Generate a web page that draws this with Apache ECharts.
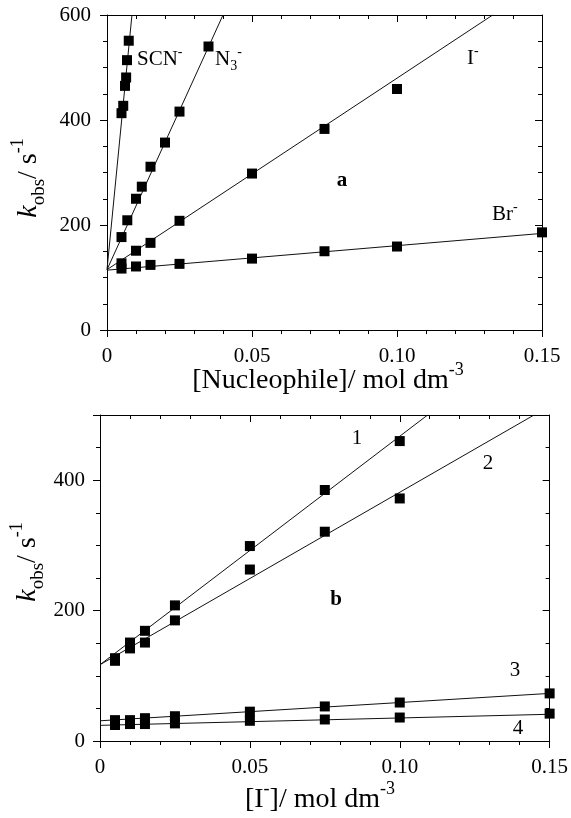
<!DOCTYPE html>
<html><head><meta charset="utf-8">
<script src="https://cdn.jsdelivr.net/npm/echarts@6/dist/echarts.min.js"></script>
<style>html,body{margin:0;padding:0;background:#fff}#c{width:571px;height:818px}</style>
</head><body><div id="c"></div>
<script>
// ---------- Panel a: k_obs vs [Nucleophile] ----------
const scnX = [0.005, 0.0056, 0.0062, 0.0066, 0.0069, 0.0075];
const scnY = [413, 427, 465, 481, 514, 551];
const n3X = [0.005, 0.007, 0.010, 0.012, 0.015, 0.020, 0.025, 0.035];
const n3Y = [177, 209, 250, 273, 311, 357, 416, 540];
const iX = [0.005, 0.010, 0.015, 0.025, 0.050, 0.075, 0.100];
const iY = [127, 151, 166, 208, 298, 383, 459];
const brX = [0.005, 0.010, 0.015, 0.025, 0.050, 0.075, 0.100, 0.150];
const brY = [117, 121, 124, 126, 136, 150, 159, 186];
// fitted lines (end points)
const scnLine = [[0, 115], [0.0086, 600]];
const n3Line = [[0, 115], [0.0400, 600]];
const iLine = [[0, 115], [0.1330, 600]];
const brLine = [[0, 114], [0.150, 184]];

// ---------- Panel b: k_obs vs [I-] ----------
const bX = [0.005, 0.010, 0.015, 0.025, 0.050, 0.075, 0.100, 0.150];
const s1Y = [127, 151, 169, 208, 299, 385, 460];
const s2Y = [123, 142, 151, 185, 263, 321, 372];
const s3Y = [32, 32, 35, 38, 45, 53, 59, 73];
const s4Y = [24.5, 26, 26, 27, 31, 33, 36, 42];
const line1 = [[0, 117], [0.1093, 500]];
const line2 = [[0, 117], [0.1448, 500]];
const line3 = [[0, 31], [0.150, 73]];
const line4 = [[0, 24], [0.150, 41]];

// ---------- ticks ----------
const xTickLabels = ['0', '0.05', '0.10', '0.15'];
const yTicksA = [0, 200, 400, 600];
const yTicksB = [0, 200, 400];

const FONT = '"Liberation Serif", "Times New Roman", serif';
const BLACK = '#000';

function pairs(xs, ys) { return ys.map((y, i) => [xs[i], y]); }

function xAxes(grid) {
  const base = {
    gridIndex: grid, type: 'value', min: 0, max: 0.15, interval: 0.05,
    axisLine: { show: true, onZero: false, lineStyle: { color: BLACK, width: 1 } },
    splitLine: { show: false }, minorSplitLine: { show: false },
    minorTick: { show: true, splitNumber: 5, length: 4, lineStyle: { color: BLACK } }
  };
  return [
    Object.assign({}, base, {
      position: 'bottom',
      axisTick: { show: true, inside: false, length: 7, lineStyle: { color: BLACK } },
      axisLabel: {
        show: true, margin: 16, color: BLACK, fontFamily: FONT, fontSize: 21,
        formatter: v => xTickLabels[Math.round(v / 0.05)] || ''
      }
    }),
    Object.assign({}, base, {
      position: 'top',
      axisTick: { show: true, inside: true, length: 7, lineStyle: { color: BLACK } },
      minorTick: { show: true, splitNumber: 5, length: 4, lineStyle: { color: BLACK } },
      axisLabel: { show: false }
    })
  ];
}
function yAxes(grid, max, labels, margin) {
  const base = {
    gridIndex: grid, type: 'value', min: 0, max: max, interval: 200,
    axisLine: { show: true, onZero: false, lineStyle: { color: BLACK, width: 1 } },
    splitLine: { show: false }, minorSplitLine: { show: false },
    minorTick: { show: true, splitNumber: 4, length: 4, lineStyle: { color: BLACK } }
  };
  return [
    Object.assign({}, base, {
      position: 'left',
      axisTick: { show: true, inside: false, length: 7, lineStyle: { color: BLACK } },
      axisLabel: {
        show: true, margin: margin, color: BLACK, fontFamily: FONT, fontSize: 21,
        formatter: v => labels.indexOf(v) >= 0 ? String(v) : ''
      }
    }),
    Object.assign({}, base, {
      position: 'right',
      axisTick: { show: true, inside: true, length: 7, lineStyle: { color: BLACK } },
      axisLabel: { show: false }
    })
  ];
}

function pts(data, xi, yi) {
  return { type: 'scatter', xAxisIndex: xi, yAxisIndex: yi, data: data,
    symbol: 'rect', symbolSize: 10, itemStyle: { color: BLACK, opacity: 1 }, z: 3, silent: true };
}
function fit(data, xi, yi) {
  return { type: 'line', xAxisIndex: xi, yAxisIndex: yi, data: data, showSymbol: false,
    symbol: 'none', clip: true, lineStyle: { color: '#111', width: 1 }, z: 2, silent: true };
}

const labRich = {
  sup: { fontFamily: FONT, fontSize: 14, lineHeight: 14, verticalAlign: 'top', fill: BLACK },
  sub: { fontFamily: FONT, fontSize: 14, lineHeight: 14, verticalAlign: 'bottom', fill: BLACK },
  n: { fontFamily: FONT, fontSize: 21, lineHeight: 28, verticalAlign: 'middle', fill: BLACK }
};
function lab(text, x, y, align, bold) {
  return { type: 'text', x: x, y: y, silent: true, style: {
    text: text, align: align || 'left', verticalAlign: 'middle', fontFamily: FONT, fontSize: 21,
    fontWeight: bold ? 'bold' : 'normal', fill: BLACK, rich: labRich } };
}
const titleRich = {
  k: { fontFamily: FONT, fontSize: 28, fontStyle: 'italic', lineHeight: 40, verticalAlign: 'middle', fill: BLACK },
  n: { fontFamily: FONT, fontSize: 28, lineHeight: 40, verticalAlign: 'middle', fill: BLACK },
  sub: { fontFamily: FONT, fontSize: 19, lineHeight: 19, verticalAlign: 'bottom', fill: BLACK },
  sup: { fontFamily: FONT, fontSize: 18, lineHeight: 18, verticalAlign: 'top', fill: BLACK }
};
function title(text, x, y, rot) {
  return { type: 'text', x: x, y: y, rotation: rot || 0, silent: true, style: {
    text: text, align: 'center', verticalAlign: 'middle', fontFamily: FONT, fontSize: 28,
    fill: BLACK, rich: titleRich } };
}

const option = {
  animation: false,
  backgroundColor: '#fff',
  grid: [
    { left: 107, top: 15, width: 435, height: 315 },
    { left: 100, top: 415, width: 450, height: 326 }
  ],
  xAxis: [].concat(xAxes(0), xAxes(1)),
  yAxis: [].concat(yAxes(0, 600, yTicksA, 16), yAxes(1, 500, yTicksB, 15)),
  series: [
    fit(scnLine, 0, 0), fit(n3Line, 0, 0), fit(iLine, 0, 0), fit(brLine, 0, 0),
    pts(pairs(scnX, scnY), 0, 0), pts(pairs(n3X, n3Y), 0, 0),
    pts(pairs(iX, iY), 0, 0), pts(pairs(brX, brY), 0, 0),
    fit(line1, 2, 2), fit(line2, 2, 2), fit(line3, 2, 2), fit(line4, 2, 2),
    pts(pairs(bX, s1Y), 2, 2), pts(pairs(bX, s2Y), 2, 2),
    pts(pairs(bX, s3Y), 2, 2), pts(pairs(bX, s4Y), 2, 2)
  ],
  graphic: [
    title('{n|[Nucleophile]/ mol dm}{sup|-3}', 328, 381),
    title('{k|k}{sub|obs}{n|/ s}{sup|-1}', 29, 178, Math.PI / 2),
    title('{n|[I}{sup|-}{n|]/ mol dm}{sup|-3}', 320, 800),
    title('{k|k}{sub|obs}{n|/ s}{sup|-1}', 28, 562, Math.PI / 2),
    lab('{n|SCN}{sup|-}', 137, 59),
    lab('{n|N}{sub|3}{sup|-}', 215, 59),
    lab('{n|I}{sup|-}', 467, 58),
    lab('a', 342, 181, 'center', true),
    lab('{n|Br}{sup|-}', 492, 214),
    lab('1', 357, 438, 'center'),
    lab('2', 488, 463, 'center'),
    lab('b', 336, 600, 'center', true),
    lab('3', 515, 670, 'center'),
    lab('4', 518, 728, 'center')
  ]
};
const chart = echarts.init(document.getElementById('c'), null, { renderer: 'canvas' });
chart.setOption(option);
</script>
</body></html>
